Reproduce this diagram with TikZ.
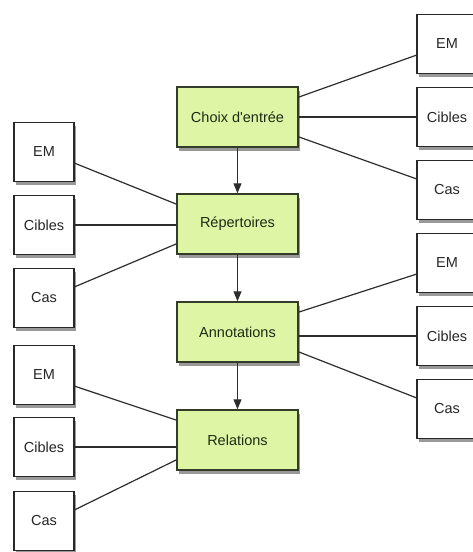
\documentclass[tikz,border=0pt]{standalone}
\usepackage{fontspec}
\newfontfamily\labelfont{Liberation Sans}
\usetikzlibrary{arrows.meta}
\usetikzlibrary{shadows}
\usepackage{xcolor}

\definecolor{stagegreen}{RGB}{222,245,165}
\definecolor{stageborder}{RGB}{50,60,40}
\definecolor{stagetext}{RGB}{30,44,20}
\definecolor{itemborder}{RGB}{40,40,40}
\definecolor{linkgray}{RGB}{45,45,45}

\tikzset{
  stage/.style={draw=stageborder, line width=1.5pt, fill=stagegreen, text=stagetext,
    minimum width=121pt, minimum height=60pt, inner sep=0pt,
    drop shadow={shadow xshift=1.5pt, shadow yshift=-3.5pt, opacity=0.4, fill=black}},
  item/.style={draw=itemborder, line width=1.5pt, fill=white, text=black!85,
    minimum width=60pt, minimum height=59pt, inner sep=0pt,
    drop shadow={shadow xshift=1.5pt, shadow yshift=-3.5pt, opacity=0.4, fill=black}},
  link/.style={draw=linkgray, line width=1.2pt},
  flow/.style={link, -{Triangle[width=8pt,length=10pt]}}
}

\begin{document}
\begin{tikzpicture}[x=1pt, y=-1pt, font=\labelfont\fontsize{14.5}{17}\selectfont]
  \useasboundingbox (0,0) rectangle (473,552);

  % main chain of stages
  \node[stage] (choix) at (237.5,117) {Choix d'entrée};
  \node[stage] (rep)   at (237.5,224) {Répertoires};
  \node[stage] (annot) at (237.5,332) {Annotations};
  \node[stage] (rel)   at (237.5,440) {Relations};

  \draw[flow] (choix) -- (rep);
  \draw[flow] (rep) -- (annot);
  \draw[flow] (annot) -- (rel);

  % right-hand boxes (Choix d'entrée, Annotations)
  \foreach \nm/\lbl/\py in {ra1/EM/44, ra2/Cibles/117, ra3/Cas/190,
                            rb1/EM/263, rb2/Cibles/336, rb3/Cas/409}{
    \node[item] (\nm) at (447,\py) {\lbl};
  }

  % left-hand boxes (Répertoires, Relations)
  \foreach \nm/\lbl/\py in {la1/EM/152, la2/Cibles/225, la3/Cas/298,
                            lb1/EM/375, lb2/Cibles/447, lb3/Cas/521}{
    \node[item] (\nm) at (44,\py) {\lbl};
  }

  % links to the right
  \foreach \g/\b in {choix/ra, annot/rb}{
    \draw[link] (\g.18) -- (\b1.200);
    \draw[link] (\b2.west) -- (\b2.west -| \g.east);
    \draw[link] (\g.-18) -- (\b3.160);
  }

  % links to the left
  \foreach \g/\b in {rep/la, rel/lb}{
    \draw[link] (\g.162) -- (\b1.-20);
    \draw[link] (\b2.east) -- (\b2.east -| \g.west);
    \draw[link] (\g.198) -- (\b3.20);
  }
\end{tikzpicture}
\end{document}
